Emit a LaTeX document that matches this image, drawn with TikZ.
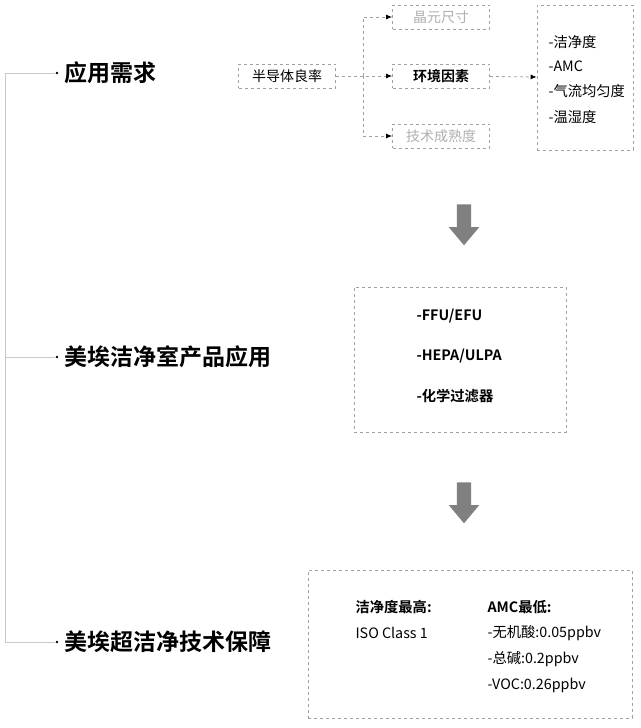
\documentclass[tikz,border=0pt]{standalone}
\usepackage{fontspec}
\setmainfont{Noto Sans CJK SC}[BoldFont={* Bold}]
\usetikzlibrary{arrows.meta,shapes.arrows}
\definecolor{boxline}{RGB}{160,160,160}
\definecolor{treeline}{RGB}{200,200,200}
\definecolor{greytext}{RGB}{175,175,175}
\definecolor{bigarrow}{RGB}{128,128,128}
\tikzset{
	dash box/.style={draw=boxline,dashed,line width=0.8pt,minimum width=97pt,minimum height=24pt,inner sep=0pt,font=\fontsize{14}{16}\selectfont},
	frame/.style={draw=boxline,dashed,line width=0.8pt},
	head/.style={anchor=west,font=\fontsize{23}{26}\selectfont\bfseries},
	item/.style={anchor=west,font=\fontsize{14.3}{16}\selectfont},
	link/.style={-{Latex[length=6pt,width=5pt,color=black]},dashed,draw=boxline,line width=0.8pt},
	down/.style={single arrow,fill=bigarrow,draw=none,shape border rotate=270,inner sep=7pt,single arrow head extend=8pt,single arrow tip angle=80,minimum height=41pt}
}
\begin{document}
\begin{tikzpicture}[x=1pt,y=-1pt]
	\useasboundingbox (0,0) rectangle (640,728);
	% tree on the left
	\draw [treeline,line width=0.8pt] (55,73) -- (5,73) -- (5,642) -- (55,642);
	\draw [treeline,line width=0.8pt] (5,357) -- (55,357);
	\foreach \y in {73,357,642} \fill (57,\y) circle (1.3pt);
	\node [head] (need) at (61,73) {应用需求};
	\node [head] (prod) at (61,357) {美埃洁净室产品应用};
	\node [head] (tech) at (61,642) {美埃超洁净技术保障};
	% top row
	\node [dash box] (yield) at (287,76) {半导体良率};
	\node [dash box,text=greytext] (wafer) at (441,17) {晶元尺寸};
	\node [dash box,font=\fontsize{14}{16}\selectfont\bfseries] (env) at (441,76) {环境因素};
	\node [dash box,text=greytext] (mature) at (441,136) {技术成熟度};
	\node [frame,minimum width=96pt,minimum height=145pt] (list) at (585,77.5) {};
	\node [item] (l1) at (545,42) {-洁净度};
	\node [item] (l2) at (545,66) {-AMC};
	\node [item] (l3) at (545,91) {-气流均匀度};
	\node [item] (l4) at (545,117) {-温湿度};
	\coordinate (fork) at (363,76);
	\draw [link] (yield) -- (env);
	\draw [link] (fork) |- (wafer);
	\draw [link] (fork) |- (mature);
	\draw [link] (env) -- (list);
	% arrows down
	\node [down] (arr1) at (464,220.5) {};
	\node [down] (arr2) at (464,498.5) {};
	% products
	\node [frame,minimum width=212pt,minimum height=145pt] (pbox) at (460,359.5) {};
	\node [item,font=\fontsize{14.3}{16}\selectfont\bfseries] (p1) at (413,316) {-FFU/EFU};
	\node [item,font=\fontsize{14.3}{16}\selectfont\bfseries] (p2) at (413,356) {-HEPA/ULPA};
	\node [item,font=\fontsize{14.3}{16}\selectfont\bfseries] (p3) at (413,396) {-化学过滤器};
	% guarantee
	\node [frame,minimum width=324pt,minimum height=148pt] (gbox) at (470,644) {};
	\node [item,font=\fontsize{14.3}{16}\selectfont\bfseries] (g1) at (352,607) {洁净度最高:};
	\node [item] (g2) at (352,633) {ISO Class 1};
	\node [item,font=\fontsize{14.3}{16}\selectfont\bfseries] (g3) at (484,607) {AMC最低:};
	\node [item] (g4) at (484,633) {-无机酸:0.05ppbv};
	\node [item] (g5) at (484,659) {-总碱:0.2ppbv};
	\node [item] (g6) at (484,685) {-VOC:0.26ppbv};
\end{tikzpicture}
\end{document}
